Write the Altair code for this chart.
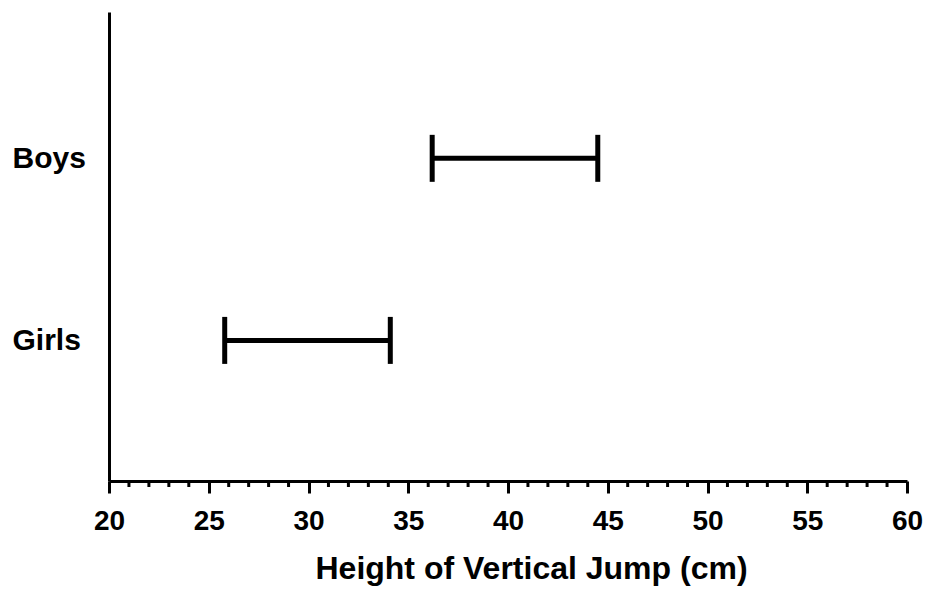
import altair as alt
import pandas as pd

groups = ["Boys", "Girls"]
low = [36.2, 25.8]
high = [44.5, 34.1]
major_ticks = [20, 25, 30, 35, 40, 45, 50, 55, 60]
minor_ticks = [v for v in range(20, 61) if v % 5 != 0]

df = pd.DataFrame({"group": groups, "low": low, "high": high})
minor_df = pd.DataFrame({"v": minor_ticks})

FONT = "Liberation Sans"
H = 469
W = 798

x_scale = alt.Scale(domain=[20, 60], nice=False, zero=False)
y_scale = alt.Scale(domain=groups, type="point", padding=0.788, align=0.51)

x_axis = alt.Axis(
    values=major_ticks,
    title="Height of Vertical Jump (cm)",
    tickSize=12,
    tickWidth=3,
    tickColor="black",
    domainColor="black",
    domainWidth=3,
    labelFont=FONT,
    labelFontSize=28,
    labelFontWeight="bold",
    labelColor="black",
    labelPadding=14,
    labelFlush=False,
    labelOverlap=False,
    titleFont=FONT,
    titleFontSize=32,
    titleFontWeight="bold",
    titleColor="black",
    titlePadding=18,
    titleX=422,
    grid=False,
)

y_axis = alt.Axis(
    title=None,
    ticks=False,
    labelAlign="left",
    labelPadding=97,
    labelFont=FONT,
    labelFontSize=30,
    labelFontWeight="bold",
    labelColor="black",
    domainColor="black",
    domainWidth=3,
    grid=False,
)

base = alt.Chart(df)

bars = base.mark_rule(color="black", strokeWidth=5).encode(
    x=alt.X("low:Q", scale=x_scale, axis=x_axis),
    x2="high:Q",
    y=alt.Y("group:N", scale=y_scale, axis=y_axis),
)

caps = base.transform_fold(["low", "high"], as_=["end", "value"]).mark_tick(
    color="black", orient="vertical", size=47, thickness=5, opacity=1
).encode(
    x=alt.X("value:Q", scale=x_scale),
    y=alt.Y("group:N", scale=y_scale),
)

minor = alt.Chart(minor_df).mark_rule(color="black", strokeWidth=3).encode(
    x=alt.X("v:Q", scale=x_scale),
    y=alt.value(H),
    y2=alt.value(H + 6),
)

chart = (
    alt.layer(bars, caps, minor)
    .properties(
        width=W,
        height=H,
        autosize=alt.AutoSizeParams(type="none"),
        padding={"left": 101, "top": 4, "right": 16, "bottom": 112},
        view=alt.ViewBackground(strokeWidth=0, strokeOpacity=0),
    )
    .configure_view(strokeWidth=0, strokeOpacity=0)
    .configure(background="white")
)

chart.save("out.html", embed_options={"renderer": "svg", "actions": False})
